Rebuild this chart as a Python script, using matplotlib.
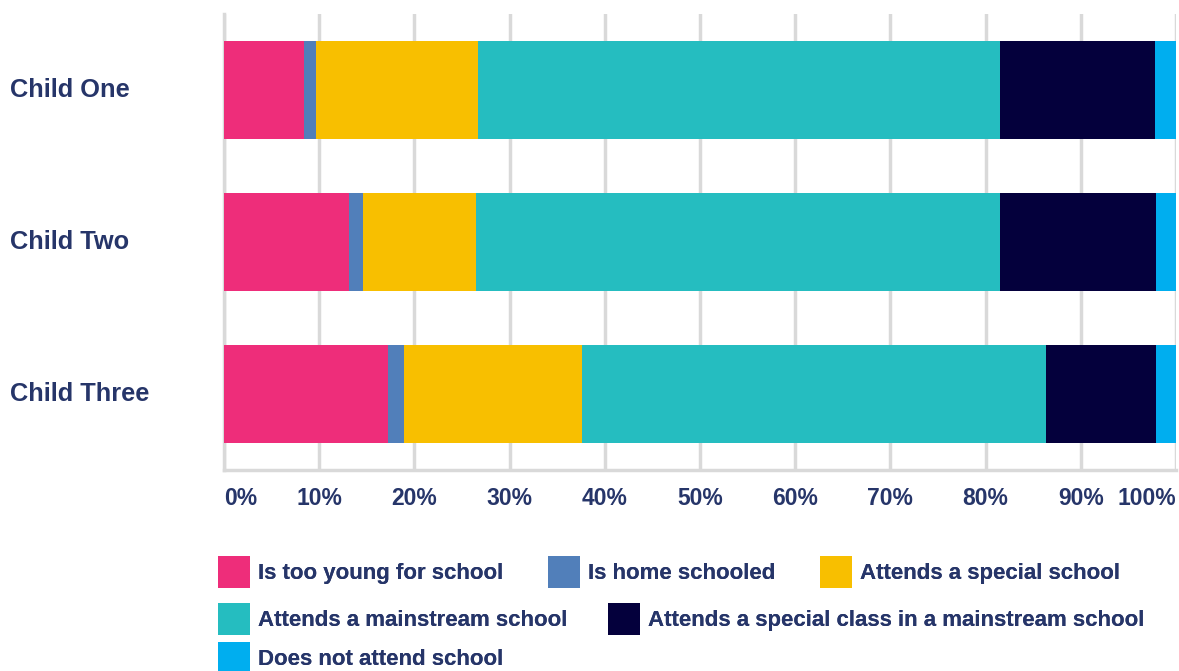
import numpy as np
import matplotlib.pyplot as plt
from matplotlib.patches import Patch

plt.rcParams['font.family'] = ['Liberation Sans', 'DejaVu Sans']

children = ["Child One", "Child Two", "Child Three"]
categories = ["Is too young for school", "Is home schooled", "Attends a special school",
              "Attends a mainstream school", "Attends a special class in a mainstream school",
              "Does not attend school"]
too_young = [8.4, 13.1, 17.2]
home_schooled = [1.3, 1.5, 1.7]
special_school = [17.0, 11.9, 18.7]
mainstream = [54.8, 55.0, 48.7]
special_class = [16.3, 16.4, 11.6]
not_attend = [2.2, 2.1, 2.1]
ticks = [0, 10, 20, 30, 40, 50, 60, 70, 80, 90, 100]

series = [too_young, home_schooled, special_school, mainstream, special_class, not_attend]
colors = ["#EE2D7A", "#517FBA", "#F8BF00", "#25BDC0", "#04003C", "#00AEEF"]
txt = "#263569"
grid = "#D9D9D9"

W, H = 1179, 671
fig = plt.figure(figsize=(W/100, H/100), dpi=100)
ax_l, ax_r, ax_t, ax_b = 224, 1176, 14, 470
ax = fig.add_axes([ax_l/W, 1 - ax_b/H, (ax_r-ax_l)/W, (ax_b-ax_t)/H])

y = np.arange(len(children))
left = np.zeros(len(children))
for vals, c in zip(series, colors):
    ax.barh(y, vals, left=left, height=0.64, color=c, zorder=3)
    left += np.array(vals)

ax.set_xlim(0, 100)
ax.set_ylim(2.5, -0.5)
ax.set_xticks(ticks)
ax.set_xticklabels([f"{t}%" for t in ticks])
ax.set_yticks(y)
ax.set_yticklabels([])
for yi, name in zip(y, children):
    ax.text(-(ax_l - 10)/(ax_r - ax_l), yi, name, transform=ax.get_yaxis_transform(),
            ha='left', va='center', fontsize=18.3, fontweight='bold', color=txt)

ax.grid(axis='x', color=grid, linewidth=2.5, zorder=0)
for s in ['top', 'right']:
    ax.spines[s].set_visible(False)
ax.spines['left'].set_color(grid)
ax.spines['left'].set_linewidth(2.5)
ax.spines['bottom'].set_color(grid)
ax.spines['bottom'].set_linewidth(2.5)
ax.tick_params(axis='x', length=0, pad=12, labelsize=16.5, labelcolor=txt)
ax.tick_params(axis='y', length=0)
xl = ax.get_xticklabels()
for lab in xl:
    lab.set_fontweight('bold')
xl[0].set_ha('left')
xl[-1].set_ha('right')

handles = [Patch(facecolor=c, label=l) for c, l in zip(colors, categories)]
rows = [(handles[0:3], 572, 2.0), (handles[3:5], 619, 1.8), (handles[5:6], 658, 1.0)]
for hs, yc, cs in rows:
    leg = fig.legend(handles=hs, loc='center left', bbox_to_anchor=(218/W, 1 - yc/H),
                     ncol=len(hs), frameon=False, fontsize=16, handlelength=1.45,
                     handleheight=1.84, handletextpad=0.36, columnspacing=cs,
                     borderpad=0, borderaxespad=0)
    for t in leg.get_texts():
        t.set_color(txt)
        t.set_fontweight('bold')
    fig.add_artist(leg)

fig.savefig("out.png", dpi=100)
